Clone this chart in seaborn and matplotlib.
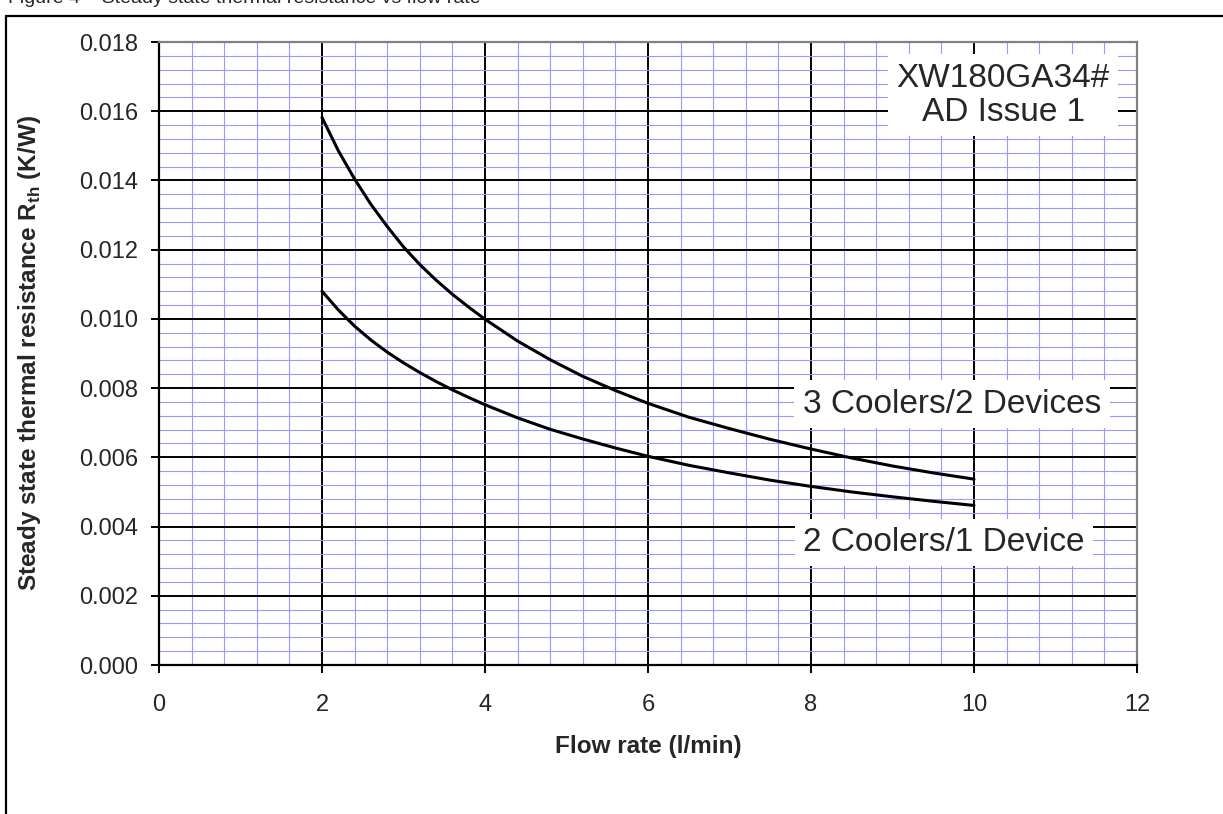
import matplotlib
matplotlib.use("Agg")
import matplotlib.pyplot as plt
from matplotlib.lines import Line2D
import numpy as np
import pandas as pd
import seaborn as sns

# ---------------------------------------------------------------------------
# Data
# ---------------------------------------------------------------------------
flow_3c = [2.0, 2.2, 2.4, 2.6, 2.8, 3.0, 3.2, 3.4, 3.6, 3.8, 4.0, 4.4, 4.8,
           5.2, 5.6, 6.0, 6.5, 7.0, 7.5, 8.0, 8.5, 9.0, 9.5, 10.0]
rth_3c = [0.01582, 0.01486, 0.01404, 0.01331, 0.01267, 0.01208, 0.01157,
          0.01112, 0.01071, 0.01034, 0.00999, 0.00936, 0.00882, 0.00834,
          0.00793, 0.00756, 0.00716, 0.00683, 0.00652, 0.00624, 0.00598,
          0.00575, 0.00555, 0.00537]

flow_2c = [2.0, 2.2, 2.4, 2.6, 2.8, 3.0, 3.2, 3.4, 3.6, 3.8, 4.0, 4.4, 4.8,
           5.2, 5.6, 6.0, 6.5, 7.0, 7.5, 8.0, 8.5, 9.0, 9.5, 10.0]
rth_2c = [0.01080, 0.01026, 0.00979, 0.00939, 0.00904, 0.00873, 0.00845,
          0.00819, 0.00795, 0.00773, 0.00752, 0.00714, 0.00681, 0.00653,
          0.00627, 0.00603, 0.00577, 0.00555, 0.00534, 0.00516, 0.00500,
          0.00486, 0.00473, 0.00461]

series_names = ["3 Coolers/2 Devices", "2 Coolers/1 Device"]
x_ticks = [0, 2, 4, 6, 8, 10, 12]
y_ticks = [0.000, 0.002, 0.004, 0.006, 0.008, 0.010, 0.012, 0.014, 0.016, 0.018]

W, H = 1223, 814

# Styling
sns.set_theme(style="white")
plt.rcParams["font.family"] = ["Liberation Sans", "DejaVu Sans"]
plt.rcParams["mathtext.fontset"] = "custom"
plt.rcParams["mathtext.rm"] = "Liberation Sans"
plt.rcParams["mathtext.bf"] = "Liberation Sans:bold"

df = pd.concat([
    pd.DataFrame({"flow": flow_3c, "rth": rth_3c, "series": series_names[0]}),
    pd.DataFrame({"flow": flow_2c, "rth": rth_2c, "series": series_names[1]}),
])

fig = plt.figure(figsize=(W / 100, H / 100), dpi=100)
ax = fig.add_axes([159 / W, 1 - 665 / H, (1137 - 159) / W, (665 - 42) / H])

sns.lineplot(data=df, x="flow", y="rth", hue="series",
             palette=["black", "black"], linewidth=2.2, legend=False,
             ax=ax, zorder=3, sort=False)

ax.set_xlim(0, 12)
ax.set_ylim(0, 0.018)
ax.set_xticks(x_ticks)
ax.set_yticks(y_ticks)
ax.set_xticks(np.arange(0, 12.01, 0.4), minor=True)
ax.set_yticks(np.arange(0, 0.01801, 0.0004), minor=True)
ax.set_yticklabels([f"{v:.3f}" for v in y_ticks])
ax.set_xticklabels([str(v) for v in x_ticks])

ax.grid(which="minor", color="#9999ff", linewidth=0.8)
ax.grid(which="major", color="black", linewidth=1.4)
ax.set_axisbelow(True)

ax.tick_params(which="major", bottom=True, left=True, direction="out",
               length=5.8, width=1.4, color="black", labelsize=17)
ax.tick_params(axis="x", pad=15)
ax.tick_params(axis="y", pad=9)
ax.tick_params(which="minor", length=0)

for side in ["left", "bottom"]:
    ax.spines[side].set_color("black")
    ax.spines[side].set_linewidth(1.6)
for side in ["top", "right"]:
    ax.spines[side].set_color("#808080")
    ax.spines[side].set_linewidth(1.6)

ax.set_xlabel("Flow rate (l/min)", fontsize=17.5, fontweight="bold", va="center")
ax.xaxis.set_label_coords(0.5, -(746 - 665) / (665 - 42))
ax.set_ylabel(r"Steady state thermal resistance R$_{\mathbf{th}}$ (K/W)",
              fontsize=17.5, fontweight="bold", va="center")
ax.yaxis.set_label_coords(-(159 - 30) / (1137 - 159), 0.5)

box = dict(boxstyle="square,pad=0.25", facecolor="white", edgecolor="none")
ax.text(10.36, 0.01646, "XW180GA34#\nAD Issue 1", fontsize=24, ha="center",
        va="center", linespacing=1.15, bbox=box, zorder=5)
ax.text(9.73, 0.00754, series_names[0], fontsize=24, ha="center",
        va="center", bbox=box, zorder=5)
ax.text(9.63, 0.00354, series_names[1], fontsize=24, ha="center",
        va="center", bbox=box, zorder=5)

# Outer figure frame (partly off-canvas) and the caption clipped at the top edge
fig.add_artist(Line2D([6 / W, 6 / W], [0, 1 - 16 / H], color="black", linewidth=1.6))
fig.add_artist(Line2D([6 / W, 1], [1 - 16 / H, 1 - 16 / H], color="black", linewidth=1.6))
fig.text(8 / W, 1 - 3 / H, "Figure 4 \u2013 Steady state thermal resistance vs flow rate",
         fontsize=14, ha="left", va="baseline")

fig.savefig("out.png", dpi=100)
plt.close(fig)
